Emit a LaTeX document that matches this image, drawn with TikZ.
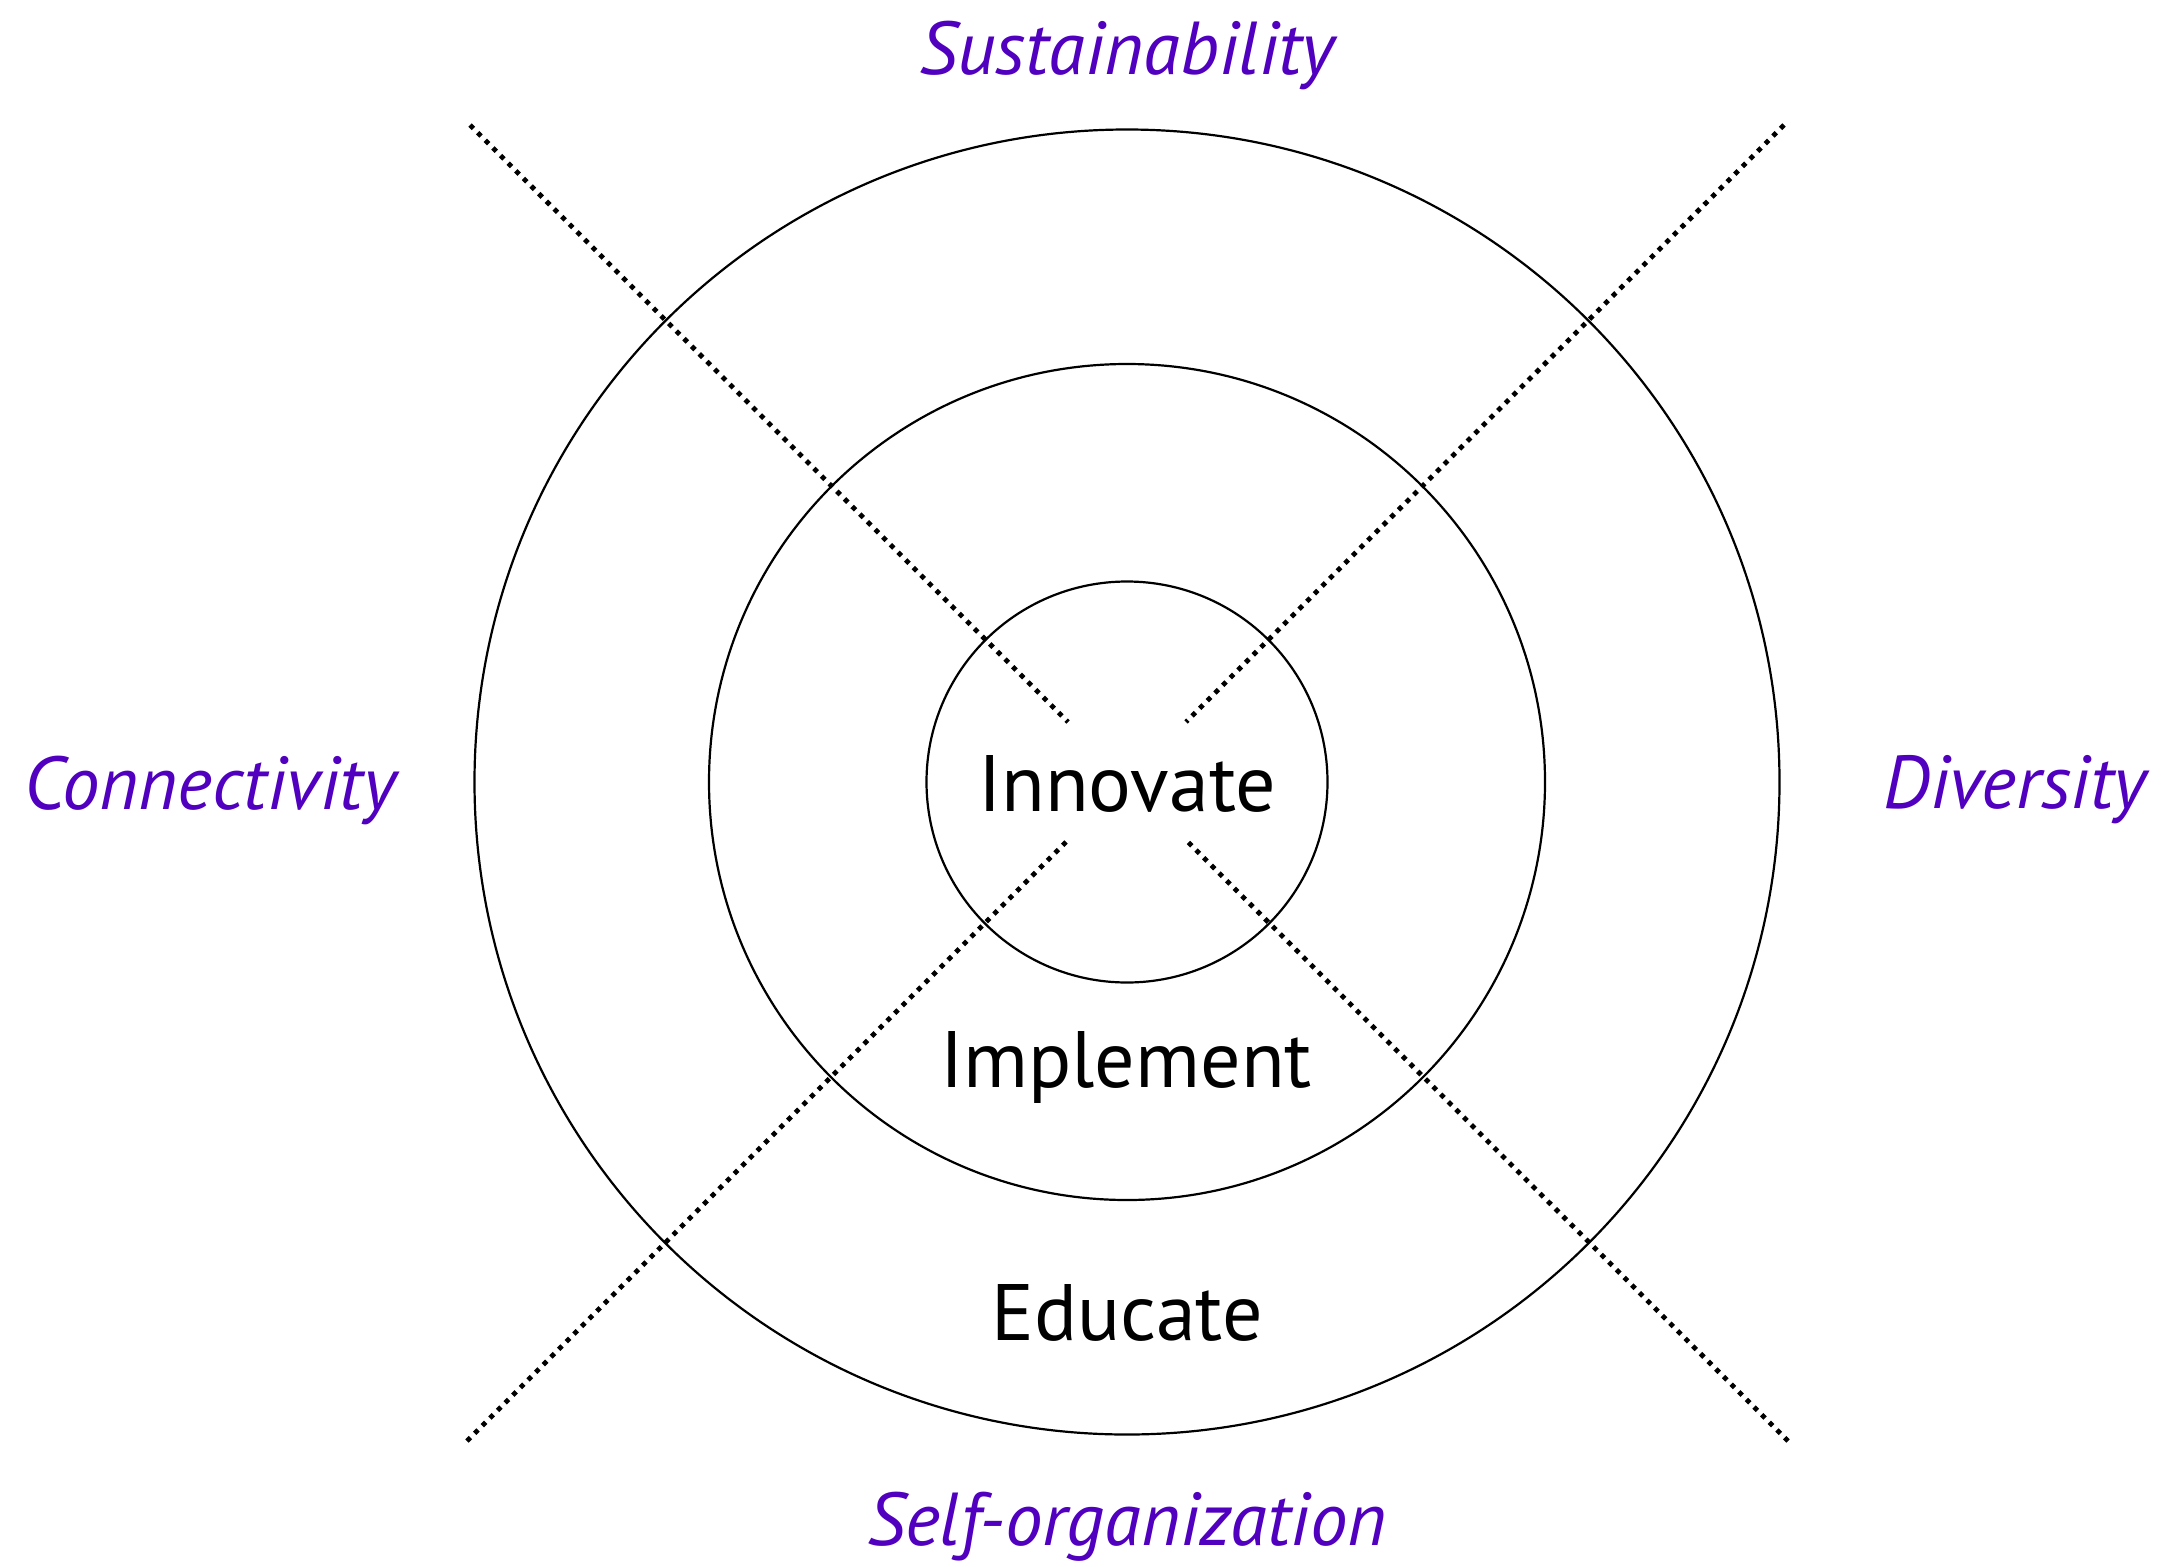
\documentclass[tikz,border=0pt]{standalone}
\usepackage{fontspec}
\setmainfont{PT Sans}
\definecolor{labpurple}{RGB}{80,0,190}
\begin{document}
\begin{tikzpicture}[x=1pt,y=-1pt,
  ring/.style={circle,draw,line width=2.2pt,inner sep=0pt},
  sep/.style={line width=4.8pt,dash pattern=on 4.8pt off 6pt},
  inner/.style={font=\fontsize{80}{90}\selectfont,text=black,inner sep=0pt},
  outer/.style={font=\fontsize{75}{86}\selectfont\itshape,text=labpurple,inner sep=0pt}]
\useasboundingbox (0,0) rectangle (2168,1566);
\coordinate (c) at (1127,782);
\node[ring,minimum size=1305pt] (outerring) at (c) {};
\node[ring,minimum size=836pt] (midring) at (c) {};
\node[ring,minimum size=401pt] (innerring) at (c) {};
% separator ends
\coordinate (ulo) at (470,125);
\coordinate (uli) at (1068,722);
\coordinate (uro) at (1784,125);
\coordinate (uri) at (1186,722);
\coordinate (llo) at (467,1441);
\coordinate (lli) at (1066,842);
\coordinate (lro) at (1788,1441);
\coordinate (lri) at (1188,842);
\draw[sep] (ulo) -- (uli);
\draw[sep] (uro) -- (uri);
\draw[sep] (llo) -- (lli);
\draw[sep] (lro) -- (lri);
\node[inner] (innovate) at (1127,784) {Innovate};
\node[inner] (implement) at (1126,1067) {Implement};
\node[inner] (educate) at (1127,1313) {Educate};
\node[outer] (sust) at (1127,55) {Sustainability};
\node[outer] (conn) at (210,790) {Connectivity};
\node[outer] (div) at (2015,790) {Diversity};
\node[outer] (self) at (1127,1527) {Self-organization};
\end{tikzpicture}
\end{document}
